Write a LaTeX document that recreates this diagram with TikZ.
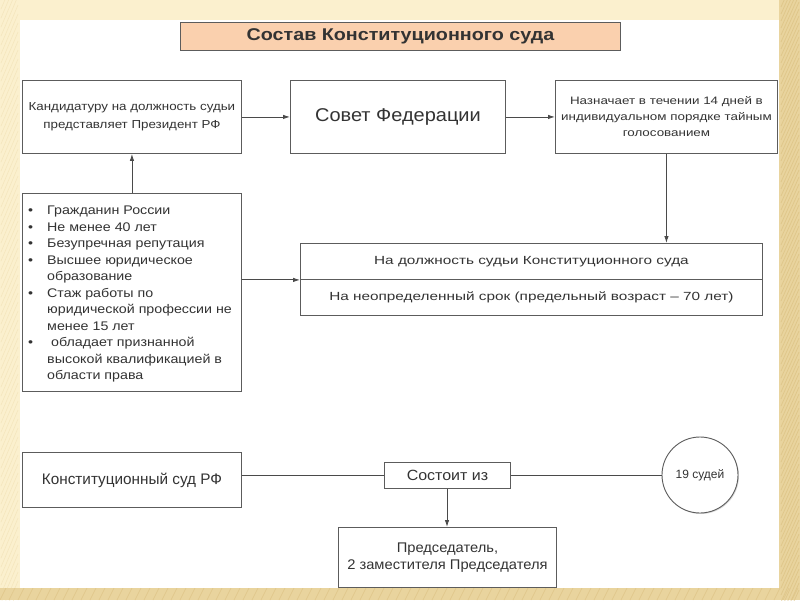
\documentclass[tikz,border=0pt]{standalone}
\usepackage{fontspec}
\setmainfont{Liberation Sans}
\usetikzlibrary{arrows.meta,shadows}
\definecolor{cream}{HTML}{FBF0CE}
\definecolor{gold}{HTML}{E9D49E}
\definecolor{golddark}{HTML}{D9BE7E}
\definecolor{peach}{HTML}{FAD0AE}
\definecolor{txt}{HTML}{333333}
\definecolor{ln}{HTML}{4A4A4A}
\newcommand{\fs}[3]{\fontsize{#1}{#2}\selectfont\addfontfeatures{FakeStretch=#3}}
\tikzset{
  box/.style={draw=ln!90, line width=0.9pt, fill=white, text=txt, align=center, inner sep=2pt,
    drop shadow={shadow xshift=1pt, shadow yshift=-1pt, fill=black!25, opacity=0.6}},
  conn/.style={draw=ln, line width=0.9pt},
  arr/.style={conn, -{Latex[length=7pt,width=4.5pt]}},
}
\begin{document}
\begin{tikzpicture}[x=1pt,y=-1pt, font=\fs{12}{14.5}{1}]
\useasboundingbox (0,0) rectangle (800,600);
% background
\fill[cream] (0,0) rectangle (800,600);
\fill[gold] (0,588) rectangle (800,600);
\fill[gold] (779,0) rectangle (800,600);
\foreach \i in {0,7,...,630} {\draw[golddark, line width=0.8pt, opacity=0.6] (781,\i) -- (799,\i-40);}
\foreach \i in {0,9,...,800} {\draw[golddark, line width=0.8pt, opacity=0.5] (\i,600) -- (\i+6,588);}
\foreach \i in {0,9,...,630} {\draw[gold, line width=0.6pt, opacity=0.35] (1,\i) -- (18,\i-40);}
\fill[white] (20,20) rectangle (779,588);
% title
\node[box, fill=peach, minimum width=440, minimum height=28, anchor=north west,
  font=\fs{17}{19}{1.16}\bfseries] (title) at (180,22) {Состав Конституционного суда};
% top row
\node[box, minimum width=219, minimum height=73, anchor=north west, font=\fs{11.6}{18}{1.15}] (cand) at (22,80)
  {Кандидатуру на должность судьи\\представляет Президент РФ};
\node[box, minimum width=215, minimum height=73, anchor=north west,
  font=\fs{18.5}{20}{1.08}] (sovet) at (290,80) {Совет Федерации};
\node[box, minimum width=222, minimum height=73, anchor=north west, font=\fs{10.8}{16}{1.24}] (nazn) at (555,80)
  {Назначает в течении 14 дней в\\индивидуальном порядке тайным\\голосованием};
% requirements
\node[box, minimum width=219, minimum height=198, anchor=north west] (req) at (22,193) {};
\node[anchor=north west, inner sep=0pt, text=txt, font=\fs{12.5}{16.5}{1.14}] (reqtext) at (28,203)
{\begin{tabular}{@{}p{19pt}@{}l@{}}
\textbullet & Гражданин России\\
\textbullet & Не менее 40 лет\\
\textbullet & Безупречная репутация\\
\textbullet & Высшее юридическое\\
 & образование\\
\textbullet & Стаж работы по\\
 & юридической профессии не\\
 & менее 15 лет\\
\textbullet & \ обладает признанной\\
 & высокой квалификацией в\\
 & области права
\end{tabular}};
% position
\node[box, minimum width=462, minimum height=36, anchor=north west, font=\fs{11.8}{14}{1.3}] (pos1) at (300,243)
  {На должность судьи Конституционного суда};
\node[box, minimum width=462, minimum height=36, anchor=north west, font=\fs{11.8}{14}{1.3}] (pos2) at (300,279)
  {На неопределенный срок (предельный возраст -- 70 лет)};
% bottom
\node[box, minimum width=219, minimum height=55, anchor=north west, font=\fs{15.3}{17}{1}] (ks) at (22,452)
  {Конституционный суд РФ};
\node[box, minimum width=126, minimum height=26, anchor=north west, font=\fs{14.8}{17}{1.08}] (sost) at (384,462)
  {Состоит из};
\node[box, circle, minimum size=76, font=\fs{12}{14}{1}] (judges) at (700,475) {19 судей};
\node[box, minimum width=218, minimum height=60, anchor=north west, font=\fs{14}{17}{1.05}] (chair) at (338,527)
  {Председатель,\\2 заместителя Председателя};
% connectors
\draw[arr] (cand) -- (sovet);
\draw[arr] (sovet) -- (nazn);
\draw[arr] (req.north) -- (cand.south);
\draw[arr] (nazn.south) -- (nazn.south |- pos1.north);
\draw[arr] (req.east |- pos1.south west) -- (pos1.south west);
\draw[conn] (ks.east |- sost.west) -- (sost.west);
\draw[conn] (sost.east) -- (sost.east -| judges.west);
\draw[arr] (sost.south -| 447,0) -- (chair.north -| 447,0);
\end{tikzpicture}
\end{document}
